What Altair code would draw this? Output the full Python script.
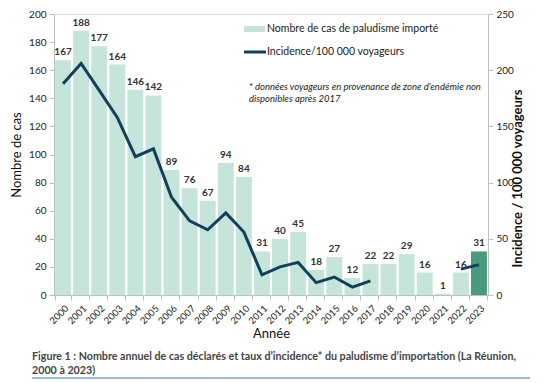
import altair as alt
import pandas as pd

years = [str(y) for y in range(2000, 2024)]
cases = [167, 188, 177, 164, 146, 142, 89, 76, 67, 94, 84, 31, 40, 45, 18, 27, 12, 22, 22, 29, 16, 1, 16, 31]
incidence = [188, 206, 182, 158, 123, 130, 87, 66, 58, 73, 56, 18, 25, 29, 11, 16, 7, 12.5,
             None, None, None, None, 23, 27]
highlight = ["no"] * 23 + ["yes"]
left_ticks = [0, 20, 40, 60, 80, 100, 120, 140, 160, 180, 200]
right_ticks = [0, 50, 100, 150, 200, 250]

legend_bar_label = "Nombre de cas de paludisme importé"
legend_line_label = "Incidence/100 000 voyageurs"
note_lines = ["* données voyageurs en provenance de zone d'endémie non", "disponibles après 2017"]
caption_lines = ["Figure 1 : Nombre annuel de cas déclarés et taux d’incidence* du paludisme d’importation (La Réunion,",
                 "2000 à 2023)"]

# segments for the broken incidence line
seg = []
s = 0
prev_null = False
for v in incidence:
    if v is None:
        prev_null = True
        seg.append(None)
    else:
        if prev_null:
            s += 1
        prev_null = False
        seg.append(s)

df = pd.DataFrame({"Année": years, "cas": cases, "inc": incidence, "hl": highlight, "seg": seg})
df_line = df.dropna(subset=["inc"])

FONT = "Lato"
W, H = 434, 281
TOP = 6
MINT = "#c5e4da"
DARK = "#4a9a7d"
NAVY = "#12405a"

x_axis = alt.Axis(labelAngle=-45, labelFontSize=9.5, labelColor="#222", labelFont=FONT,
                  titleFont=FONT, titleFontSize=13, titleFontWeight="normal", titleColor="#111",
                  titlePadding=2, domainColor="#bfbfbf", tickColor="#bfbfbf", tickSize=5,
                  tickBand="extent", labelPadding=3, labelOverlap=False)
x_scale = alt.Scale(paddingInner=0.12, paddingOuter=0.06)

y_axis = alt.Axis(values=left_ticks, grid=False, labelFontSize=10,
                  labelColor="#222", labelFont=FONT, titleFont=FONT, titleFontSize=13,
                  titleFontWeight="normal", titleColor="#111", domainColor="#bfbfbf",
                  tickColor="#bfbfbf", tickSize=5, titlePadding=5, labelPadding=3,
                  labelOverlap=False)
y_scale = alt.Scale(domain=[0, 200])

bars = alt.Chart(df).mark_bar().encode(
    x=alt.X("Année:N", title="Année", scale=x_scale, axis=x_axis),
    y=alt.Y("cas:Q", title="Nombre de cas", scale=y_scale, axis=y_axis),
    color=alt.Color("hl:N", scale=alt.Scale(domain=["no", "yes"], range=[MINT, DARK]), legend=None),
)

labels = alt.Chart(df).mark_text(dy=-8, fontSize=10, fontWeight="bold", color="#333", font=FONT).encode(
    x=alt.X("Année:N", title="Année", scale=x_scale, axis=x_axis),
    y=alt.Y("cas:Q", title="Nombre de cas", scale=y_scale, axis=y_axis),
    text=alt.Text("cas:Q"),
)

line = alt.Chart(df_line).mark_line(color=NAVY, strokeWidth=3).encode(
    x=alt.X("Année:N", title="Année", scale=x_scale, axis=x_axis),
    y=alt.Y("inc:Q", title="Incidence / 100 000  voyageurs",
            scale=alt.Scale(domain=[0, 250]),
            axis=alt.Axis(orient="right", values=right_ticks, grid=False,
                          labelFontSize=10, labelColor="#222", labelFont=FONT, titleFont=FONT,
                          titleFontSize=13, titleFontWeight="bold", titleColor="#111",
                          domainColor="#bfbfbf", tickColor="#bfbfbf", tickSize=5,
                          titleAngle=270, titleX=36, titleY=164, labelPadding=3,
                          labelOverlap=False)),
    detail="seg:N",
)

left = alt.layer(bars, labels)

# legend (pixel offsets relative to the plot area)
dy = -4
leg_df = pd.DataFrame({"k": [0]})
leg_rect = alt.Chart(leg_df).mark_rect(color=MINT).encode(
    x=alt.value(190), x2=alt.value(211), y=alt.value(16 + dy), y2=alt.value(22 + dy))
leg_rule = alt.Chart(leg_df).mark_rule(color=NAVY, strokeWidth=3).encode(
    x=alt.value(190), x2=alt.value(212), y=alt.value(42 + dy))
leg_t1 = alt.Chart(leg_df).mark_text(align="left", baseline="middle", fontSize=10.5, font=FONT, color="#222").encode(
    x=alt.value(213), y=alt.value(19 + dy), text=alt.value(legend_bar_label))
leg_t2 = alt.Chart(leg_df).mark_text(align="left", baseline="middle", fontSize=10.5, font=FONT, color="#222").encode(
    x=alt.value(213), y=alt.value(42 + dy), text=alt.value(legend_line_label))

note = alt.Chart(leg_df).mark_text(align="left", baseline="middle", fontSize=9.5, font=FONT,
                                   fontStyle="italic", color="#222", lineHeight=12).encode(
    x=alt.value(195), y=alt.value(77 + dy), text=alt.value(note_lines))

caption = alt.Chart(leg_df).mark_text(align="left", baseline="middle", fontSize=10.7, font=FONT,
                                      fontWeight="bold", color="#444", lineHeight=14).encode(
    x=alt.value(-22), y=alt.value(347 + dy), text=alt.value(caption_lines))
cap_rule = alt.Chart(leg_df).mark_rule(color="#7ba3c9", strokeWidth=1.5).encode(
    x=alt.value(-22), x2=alt.value(476), y=alt.value(368 + dy))

chart = alt.layer(left, line, leg_rect, leg_rule, leg_t1, leg_t2, note, caption, cap_rule).resolve_scale(
    y="independent"
).properties(
    width=W, height=H,
    autosize=alt.AutoSizeParams(type="none"),
    padding={"left": 46, "top": TOP, "right": 64, "bottom": 84},
).configure_view(stroke=None).configure(background="white")

chart.save("out.html", embed_options={"renderer": "svg", "actions": False})
